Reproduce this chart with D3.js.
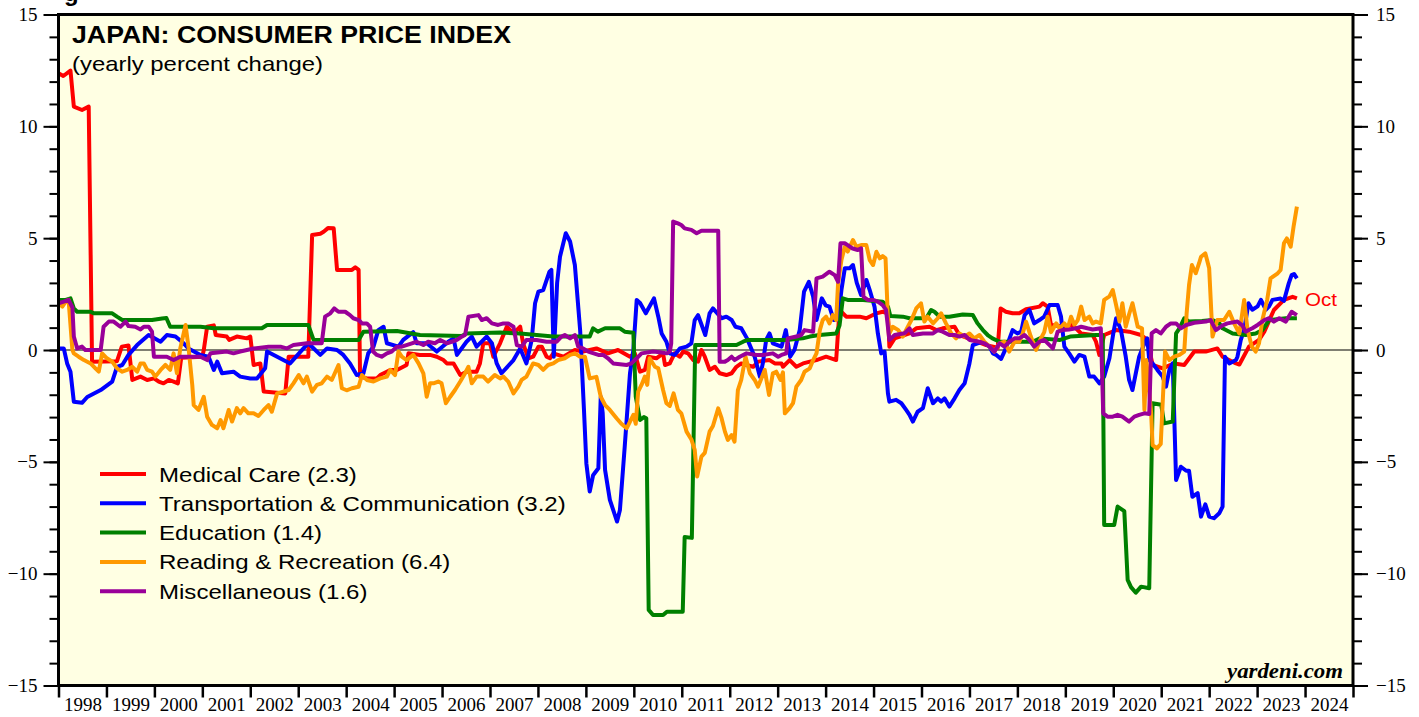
<!DOCTYPE html>
<html>
<head>
<meta charset="utf-8">
<script src="https://cdn.jsdelivr.net/npm/d3@7"></script>
<style>
  body { margin: 0; background: #fff; }
  svg { display: block; }
</style>
</head>
<body>
<div id="graph"></div>
<script>
'use strict';

// ---- data: [decimal year, yearly % change] ----
const medicalCare = [
  [1998.00, 12.37], [1998.10, 12.25], [1998.25, 12.49], [1998.32, 10.88], [1998.49, 10.73], [1998.63, 10.88],
  [1998.70, -0.52], [1999.22, -0.50], [1999.32, 0.15], [1999.46, 0.20], [1999.54, -1.34], [1999.71, -1.19],
  [1999.85, -1.34], [1999.99, -1.27], [2000.09, -1.41], [2000.19, -1.49], [2000.30, -1.34], [2000.40, -1.41],
  [2000.49, -1.49], [2000.56, -0.35], [2001.00, -0.30], [2001.03, 0.00], [2001.10, 1.04], [2001.24, 1.10],
  [2001.28, 0.67], [2001.51, 0.60], [2001.56, 0.45], [2001.72, 0.60], [2001.93, 0.52], [2002.00, 0.60],
  [2002.07, -0.67], [2002.21, -0.60], [2002.28, -1.86], [2002.73, -1.94], [2002.80, -0.30], [2003.21, -0.30],
  [2003.29, 5.14], [2003.46, 5.20], [2003.53, 5.29], [2003.62, 5.45], [2003.74, 5.44], [2003.81, 3.58],
  [2004.12, 3.58], [2004.19, 3.70], [2004.26, 3.58], [2004.29, -1.19], [2004.43, -1.27], [2004.64, -1.27],
  [2004.71, -1.12], [2004.92, -0.89], [2005.06, -0.89], [2005.26, -0.67], [2005.30, -0.15], [2005.54, -0.22],
  [2005.75, -0.22], [2005.89, -0.30], [2006.03, -0.45], [2006.10, -0.60], [2006.24, -0.60], [2006.38, -1.12],
  [2006.51, -0.97], [2006.72, -0.97], [2006.79, -0.60], [2006.86, 0.30], [2007.00, 0.30], [2007.07, -0.30],
  [2007.21, 0.30], [2007.35, 1.04], [2007.49, 0.74], [2007.63, 1.04], [2007.69, 0.30], [2007.80, -0.37],
  [2007.90, -0.30], [2008.01, 0.15], [2008.08, 0.15], [2008.18, -0.30], [2008.25, -0.37], [2008.32, -0.15],
  [2008.53, -0.30], [2008.77, 0.00], [2008.94, -0.07], [2009.22, 0.07], [2009.46, -0.15], [2009.67, 0.00],
  [2009.92, -0.30], [2010.02, -0.15], [2010.13, -0.97], [2010.23, -0.89], [2010.30, -0.30], [2010.47, -0.37],
  [2010.61, -0.15], [2010.65, -0.67], [2010.75, -0.60], [2010.85, -0.15], [2010.96, -0.30], [2011.03, -0.07],
  [2011.13, -0.15], [2011.24, -0.45], [2011.34, -0.52], [2011.41, 0.00], [2011.48, -0.30], [2011.58, -0.89],
  [2011.69, -0.75], [2011.79, -1.04], [2011.93, -1.12], [2012.04, -1.04], [2012.14, -0.75], [2012.24, -0.60],
  [2012.35, -0.67], [2012.49, -0.75], [2012.59, -0.52], [2012.83, -0.45], [2012.94, -0.60], [2013.08, -0.60],
  [2013.11, -0.75], [2013.25, -0.45], [2013.39, -0.75], [2013.53, -0.60], [2013.81, -0.45], [2014.01, -0.30],
  [2014.22, -0.45], [2014.29, 1.79], [2014.43, 1.49], [2014.71, 1.49], [2014.85, 1.42], [2015.06, 1.64],
  [2015.19, 1.71], [2015.30, 1.64], [2015.33, 0.15], [2015.44, 0.52], [2015.75, 0.74], [2015.89, 0.97],
  [2016.17, 1.04], [2016.31, 0.89], [2016.44, 0.97], [2016.69, 1.04], [2016.79, 0.67], [2017.07, 0.45],
  [2017.35, 0.22], [2017.59, 0.10], [2017.65, 1.86], [2017.76, 1.71], [2017.90, 1.64], [2018.04, 1.64],
  [2018.18, 1.82], [2018.46, 1.94], [2018.53, 2.09], [2018.63, 1.94], [2018.70, 1.12], [2018.98, 1.04],
  [2019.12, 1.12], [2019.22, 0.97], [2019.33, 0.74], [2019.57, 0.67], [2019.64, 0.37], [2019.71, -0.22],
  [2019.81, 0.67], [2020.06, 0.89], [2020.33, 0.82], [2020.58, 0.67], [2020.71, 0.45], [2020.82, -0.67],
  [2021.03, -0.82], [2021.27, -0.60], [2021.48, -0.67], [2021.69, -0.07], [2021.93, -0.07], [2022.17, 0.07],
  [2022.28, -0.30], [2022.56, -0.60], [2022.63, -0.65], [2022.83, 0.15], [2023.04, 0.45], [2023.15, 0.82],
  [2023.35, 1.79], [2023.56, 2.24], [2023.74, 2.38], [2023.83, 2.31]
];

const transportComm = [
  [1998.00, 0.07], [1998.11, 0.07], [1998.18, -0.60], [1998.25, -0.97], [1998.32, -2.31], [1998.49, -2.36],
  [1998.60, -2.10], [1998.88, -1.79], [1999.12, -1.41], [1999.22, -0.75], [1999.33, -0.67], [1999.46, -0.22],
  [1999.64, 0.22], [1999.88, 0.67], [2000.13, 0.37], [2000.26, 0.67], [2000.44, 0.60], [2000.61, 0.30],
  [2000.71, 0.07], [2000.96, -0.22], [2001.13, -0.30], [2001.24, -0.89], [2001.31, -0.52], [2001.41, -1.04],
  [2001.65, -0.97], [2001.79, -1.19], [2002.00, -1.27], [2002.14, -1.27], [2002.31, -0.82], [2002.35, -0.07],
  [2002.56, -0.30], [2002.83, -0.60], [2003.11, 0.07], [2003.21, 0.30], [2003.46, -0.22], [2003.60, 0.07],
  [2003.81, 0.00], [2003.94, -0.22], [2004.08, -0.60], [2004.22, -1.12], [2004.36, -1.04], [2004.46, -0.15],
  [2004.57, 0.15], [2004.67, 0.89], [2004.78, 1.04], [2004.85, 0.30], [2005.09, 0.15], [2005.19, 0.45],
  [2005.40, 0.80], [2005.47, 0.30], [2005.68, 0.30], [2005.89, -0.07], [2006.13, 0.37], [2006.24, 0.52],
  [2006.31, -0.22], [2006.51, 0.37], [2006.62, 0.60], [2006.72, 0.15], [2006.93, 0.60], [2007.04, 0.30],
  [2007.14, -0.60], [2007.24, -1.04], [2007.49, -0.45], [2007.63, 0.07], [2007.76, -0.60], [2007.87, 0.45],
  [2007.94, 2.09], [2008.01, 2.61], [2008.11, 2.68], [2008.24, 3.50], [2008.28, 3.58], [2008.33, -0.30],
  [2008.40, 3.00], [2008.46, 4.17], [2008.58, 5.22], [2008.67, 4.85], [2008.77, 3.80], [2008.88, 0.89],
  [2008.96, -2.68], [2009.01, -5.07], [2009.08, -6.33], [2009.15, -5.60], [2009.26, -5.29], [2009.31, -2.09],
  [2009.35, -2.80], [2009.40, -5.36], [2009.50, -6.70], [2009.65, -7.67], [2009.71, -7.15], [2009.81, -4.32],
  [2009.92, -1.04], [2009.99, 0.00], [2010.06, 2.24], [2010.13, 2.10], [2010.25, 1.64], [2010.42, 2.31],
  [2010.51, 1.49], [2010.58, 0.74], [2010.68, 0.37], [2010.75, -0.15], [2010.85, -0.22], [2010.96, 0.07],
  [2011.10, 0.15], [2011.20, 0.30], [2011.27, 1.34], [2011.34, 1.56], [2011.49, 0.67], [2011.58, 1.64],
  [2011.65, 1.86], [2011.83, 1.42], [2011.93, 1.49], [2012.04, 1.34], [2012.12, 1.04], [2012.24, 0.97],
  [2012.36, 0.52], [2012.52, -0.30], [2012.63, -1.19], [2012.69, -0.60], [2012.76, 0.45], [2012.83, 0.74],
  [2012.90, 0.30], [2013.08, 0.15], [2013.17, 0.89], [2013.26, -0.30], [2013.35, 0.00], [2013.46, 0.89],
  [2013.55, 2.61], [2013.65, 3.05], [2013.74, 2.38], [2013.81, 1.34], [2013.92, 2.31], [2014.00, 2.00],
  [2014.08, 1.94], [2014.17, 1.34], [2014.26, 1.34], [2014.33, 2.68], [2014.40, 3.65], [2014.50, 3.65],
  [2014.57, 3.80], [2014.65, 3.00], [2014.74, 2.46], [2014.85, 3.13], [2014.92, 2.68], [2015.02, 1.94],
  [2015.09, 0.74], [2015.16, -0.15], [2015.23, -0.07], [2015.30, -1.94], [2015.33, -2.31], [2015.47, -2.23],
  [2015.58, -2.38], [2015.68, -2.68], [2015.75, -2.90], [2015.82, -3.20], [2015.92, -2.76], [2016.03, -2.60],
  [2016.13, -1.71], [2016.24, -2.38], [2016.34, -2.16], [2016.41, -2.31], [2016.48, -2.16], [2016.58, -2.53],
  [2016.69, -2.16], [2016.79, -1.79], [2016.90, -1.49], [2017.00, -0.60], [2017.07, 0.22], [2017.17, 0.30],
  [2017.28, 0.37], [2017.42, 0.15], [2017.49, -0.15], [2017.56, -0.22], [2017.66, -0.40], [2017.76, 0.07],
  [2017.90, 0.89], [2018.00, 0.74], [2018.08, 0.82], [2018.15, 1.56], [2018.25, 1.79], [2018.35, 1.19],
  [2018.46, 1.34], [2018.56, 1.49], [2018.67, 2.01], [2018.84, 2.01], [2018.91, 1.49], [2018.98, 0.15],
  [2019.08, -0.15], [2019.19, -0.52], [2019.29, -0.22], [2019.40, -0.30], [2019.50, -1.19], [2019.60, -1.19],
  [2019.71, -1.49], [2019.81, -1.19], [2019.92, -0.37], [2020.00, 0.74], [2020.06, 1.42], [2020.16, 0.89],
  [2020.26, -0.30], [2020.33, -1.34], [2020.40, -1.79], [2020.47, -1.04], [2020.54, -0.30], [2020.65, 0.30],
  [2020.71, 0.52], [2020.75, -0.45], [2020.82, -0.60], [2020.92, -0.89], [2021.03, -1.19], [2021.10, -1.64],
  [2021.17, -0.89], [2021.24, -0.60], [2021.31, -5.81], [2021.41, -5.22], [2021.52, -5.40], [2021.58, -5.40],
  [2021.65, -6.56], [2021.76, -6.40], [2021.83, -7.45], [2021.92, -6.90], [2022.00, -7.45], [2022.10, -7.52],
  [2022.21, -7.30], [2022.28, -7.00], [2022.33, -0.30], [2022.42, -0.60], [2022.56, -0.45], [2022.59, -0.30],
  [2022.66, 0.45], [2022.73, 0.90], [2022.82, 2.09], [2022.90, 1.80], [2023.01, 1.95], [2023.08, 2.24],
  [2023.18, 1.80], [2023.25, 1.95], [2023.32, 2.24], [2023.49, 2.30], [2023.56, 2.20], [2023.66, 2.98],
  [2023.72, 3.35], [2023.77, 3.40], [2023.83, 3.20]
];

const education = [
  [1998.00, 2.24], [1998.15, 2.24], [1998.25, 2.31], [1998.32, 1.86], [1998.39, 1.71], [1998.67, 1.71],
  [1998.74, 1.64], [1999.12, 1.64], [1999.22, 1.49], [1999.33, 1.34], [1999.95, 1.34], [2000.16, 1.41],
  [2000.25, 1.43], [2000.33, 1.04], [2000.96, 1.04], [2001.24, 0.97], [2002.24, 0.97], [2002.35, 1.12],
  [2003.21, 1.12], [2003.32, 0.45], [2004.26, 0.45], [2004.36, 0.82], [2005.06, 0.85], [2005.54, 0.67],
  [2006.41, 0.63], [2006.51, 0.74], [2007.21, 0.78], [2007.63, 0.74], [2008.32, 0.60], [2009.08, 0.60],
  [2009.15, 0.97], [2009.25, 0.82], [2009.40, 0.97], [2009.71, 0.97], [2009.81, 0.82], [2009.99, 0.77],
  [2010.04, -2.09], [2010.13, -3.13], [2010.21, -3.00], [2010.26, -3.05], [2010.31, -11.62], [2010.40, -11.85],
  [2010.61, -11.85], [2010.69, -11.70], [2011.02, -11.70], [2011.06, -8.36], [2011.21, -8.40], [2011.28, 0.22],
  [2012.14, 0.22], [2012.28, 0.37], [2012.38, 0.45], [2013.18, 0.45], [2013.52, 0.52], [2013.67, 0.60],
  [2013.87, 0.67], [2014.22, 0.74], [2014.29, 1.10], [2014.36, 2.31], [2014.46, 2.24], [2014.78, 2.24],
  [2015.19, 2.16], [2015.30, 1.94], [2015.35, 1.52], [2015.61, 1.49], [2015.75, 1.42], [2016.10, 1.42],
  [2016.20, 1.79], [2016.27, 1.71], [2016.38, 1.49], [2016.58, 1.49], [2016.86, 1.59], [2017.07, 1.56],
  [2017.17, 1.19], [2017.28, 0.89], [2017.38, 0.67], [2017.48, 0.52], [2017.63, 0.37], [2018.32, 0.37],
  [2018.47, 0.52], [2018.89, 0.45], [2019.10, 0.60], [2019.64, 0.67], [2019.78, 0.67], [2019.81, -7.82],
  [2020.02, -7.82], [2020.09, -7.00], [2020.23, -7.20], [2020.30, -10.28], [2020.37, -10.60], [2020.47, -10.85],
  [2020.58, -10.58], [2020.75, -10.65], [2020.82, -2.38], [2021.00, -2.45], [2021.06, -3.28], [2021.24, -3.20],
  [2021.31, 0.74], [2021.38, 0.97], [2021.48, 1.42], [2021.58, 1.27], [2021.85, 1.30], [2022.07, 1.34],
  [2022.21, 1.20], [2022.28, 0.97], [2022.49, 0.74], [2022.76, 0.67], [2022.97, 0.74], [2023.11, 0.89],
  [2023.25, 1.34], [2023.60, 1.42], [2023.83, 1.42]
];

const readingRecreation = [
  [1998.00, 2.09], [1998.08, 1.94], [1998.15, 2.16], [1998.21, 2.24], [1998.29, 0.00], [1998.32, -0.15],
  [1998.42, -0.30], [1998.53, -0.45], [1998.67, -0.60], [1998.77, -0.82], [1998.84, -0.97], [1998.91, -0.15],
  [1999.01, -0.37], [1999.12, -0.52], [1999.22, -0.82], [1999.33, -0.97], [1999.43, -0.89], [1999.54, -0.75],
  [1999.64, -0.97], [1999.71, -0.60], [1999.78, -0.60], [1999.85, -0.89], [1999.95, -0.97], [2000.02, -1.19],
  [2000.13, -0.89], [2000.23, -0.67], [2000.33, -0.89], [2000.40, -0.15], [2000.47, -1.04], [2000.54, 0.07],
  [2000.65, 1.12], [2000.71, 0.15], [2000.79, -1.56], [2000.82, -2.46], [2000.92, -2.68], [2001.03, -2.09],
  [2001.10, -2.98], [2001.20, -3.35], [2001.31, -3.50], [2001.38, -3.13], [2001.44, -3.50], [2001.55, -2.68],
  [2001.62, -3.20], [2001.72, -2.60], [2001.79, -2.83], [2001.86, -2.60], [2001.96, -2.83], [2002.07, -2.83],
  [2002.17, -2.95], [2002.28, -2.68], [2002.38, -2.46], [2002.45, -2.76], [2002.56, -1.94], [2002.69, -1.86],
  [2002.80, -1.79], [2002.90, -1.49], [2003.01, -1.12], [2003.11, -1.49], [2003.18, -1.19], [2003.29, -1.86],
  [2003.39, -1.56], [2003.49, -1.49], [2003.60, -1.19], [2003.70, -1.34], [2003.84, -0.67], [2003.91, -1.71],
  [2004.01, -1.80], [2004.12, -1.71], [2004.26, -1.64], [2004.33, -1.12], [2004.43, -1.34], [2004.57, -1.41],
  [2004.71, -1.27], [2004.85, -1.19], [2004.92, -0.89], [2005.02, -1.12], [2005.09, -0.07], [2005.16, -0.30],
  [2005.26, -0.45], [2005.40, -0.22], [2005.51, -0.60], [2005.61, -1.04], [2005.68, -2.09], [2005.75, -1.49],
  [2005.82, -1.49], [2005.92, -1.41], [2005.99, -1.49], [2006.08, -2.38], [2006.17, -2.09], [2006.27, -1.79],
  [2006.38, -1.41], [2006.48, -1.04], [2006.55, -0.75], [2006.62, -1.49], [2006.72, -1.19], [2006.86, -1.19],
  [2006.96, -1.41], [2007.10, -1.12], [2007.21, -1.27], [2007.28, -1.19], [2007.38, -1.41], [2007.49, -1.94],
  [2007.59, -1.64], [2007.66, -1.34], [2007.76, -1.19], [2007.90, -0.60], [2008.01, -0.67], [2008.11, -0.89],
  [2008.21, -0.67], [2008.32, -0.60], [2008.42, -0.45], [2008.56, -0.37], [2008.67, -0.22], [2008.77, -0.15],
  [2008.88, -0.30], [2008.98, -0.30], [2009.08, -1.27], [2009.22, -1.20], [2009.31, -2.09], [2009.40, -2.46],
  [2009.50, -2.68], [2009.64, -3.05], [2009.74, -3.30], [2009.85, -3.50], [2009.92, -3.20], [2009.99, -2.90],
  [2010.04, -3.30], [2010.09, -1.86], [2010.16, -1.56], [2010.23, -1.19], [2010.28, -1.56], [2010.33, -0.37],
  [2010.44, -0.75], [2010.51, -0.82], [2010.61, -1.79], [2010.68, -2.38], [2010.75, -2.50], [2010.83, -1.94],
  [2010.92, -2.68], [2010.99, -2.83], [2011.10, -3.65], [2011.20, -4.00], [2011.27, -4.47], [2011.32, -5.66],
  [2011.41, -4.77], [2011.48, -4.60], [2011.58, -3.65], [2011.65, -3.40], [2011.76, -2.61], [2011.83, -3.05],
  [2011.90, -3.65], [2011.96, -4.02], [2012.04, -3.80], [2012.10, -4.10], [2012.17, -1.79], [2012.24, -1.34],
  [2012.33, -0.30], [2012.42, -1.04], [2012.52, -1.34], [2012.59, -1.64], [2012.66, -1.27], [2012.73, -0.89],
  [2012.82, -2.01], [2012.90, -1.04], [2012.97, -0.97], [2013.06, -1.34], [2013.11, -1.00], [2013.15, -2.83],
  [2013.25, -2.60], [2013.32, -2.38], [2013.39, -1.64], [2013.49, -1.34], [2013.56, -0.97], [2013.67, -0.82],
  [2013.74, -0.45], [2013.81, -0.15], [2013.88, 0.89], [2013.94, 1.34], [2014.01, 1.49], [2014.08, 1.19],
  [2014.15, 1.56], [2014.22, 1.34], [2014.26, 2.98], [2014.33, 4.02], [2014.40, 4.62], [2014.46, 4.40],
  [2014.57, 4.92], [2014.64, 4.62], [2014.74, 4.69], [2014.85, 4.69], [2014.92, 4.02], [2014.99, 3.80],
  [2015.06, 4.39], [2015.13, 4.10], [2015.19, 4.20], [2015.25, 4.10], [2015.30, 1.34], [2015.33, 0.74],
  [2015.40, 1.04], [2015.51, 0.90], [2015.61, 0.60], [2015.68, 0.90], [2015.79, 1.34], [2015.89, 1.86],
  [2015.99, 2.09], [2016.06, 1.27], [2016.13, 1.49], [2016.24, 1.19], [2016.34, 1.42], [2016.41, 1.64],
  [2016.51, 1.19], [2016.62, 0.74], [2016.72, 0.52], [2016.79, 0.74], [2016.90, 0.60], [2017.00, 0.74],
  [2017.10, 0.52], [2017.21, 0.67], [2017.31, 0.37], [2017.42, 0.15], [2017.52, -0.07], [2017.63, 0.30],
  [2017.73, 0.37], [2017.83, -0.07], [2017.94, 0.37], [2018.04, 0.37], [2018.11, 0.74], [2018.18, 1.27],
  [2018.28, 0.60], [2018.39, 0.00], [2018.49, 0.52], [2018.56, 0.80], [2018.63, 1.49], [2018.70, 0.80],
  [2018.81, 1.19], [2018.88, 0.97], [2018.98, 1.19], [2019.05, 0.97], [2019.12, 1.49], [2019.19, 1.12],
  [2019.26, 1.34], [2019.33, 1.94], [2019.40, 1.34], [2019.50, 1.49], [2019.57, 1.19], [2019.64, 1.27],
  [2019.74, 1.19], [2019.81, 2.24], [2019.92, 2.40], [2019.99, 2.68], [2020.06, 2.00], [2020.13, 1.27],
  [2020.19, 2.09], [2020.26, 1.04], [2020.33, 1.60], [2020.40, 2.09], [2020.51, 1.04], [2020.60, 0.97],
  [2020.65, -2.68], [2020.69, -0.45], [2020.79, -2.83], [2020.82, -4.25], [2020.91, -4.40], [2020.99, -4.20],
  [2021.03, -2.38], [2021.08, -0.07], [2021.17, -0.45], [2021.27, -0.30], [2021.38, -0.22], [2021.48, -0.07],
  [2021.53, 1.64], [2021.58, 2.90], [2021.64, 3.80], [2021.72, 3.43], [2021.79, 3.88], [2021.83, 4.17],
  [2021.92, 4.32], [2022.00, 3.65], [2022.07, 0.60], [2022.17, 1.34], [2022.31, 1.34], [2022.42, 1.71],
  [2022.52, 1.19], [2022.63, 0.74], [2022.73, 2.24], [2022.80, 0.90], [2022.89, 0.15], [2022.97, -0.07],
  [2023.04, 0.30], [2023.11, 1.34], [2023.21, 2.24], [2023.28, 3.20], [2023.43, 3.43], [2023.49, 3.58],
  [2023.56, 4.77], [2023.62, 4.99], [2023.70, 4.62], [2023.76, 5.51], [2023.83, 6.41]
];

const miscellaneous = [
  [1998.00, 2.09], [1998.11, 2.16], [1998.21, 2.24], [1998.29, 1.90], [1998.32, 0.60], [1998.39, 0.07],
  [1998.49, 0.15], [1998.56, 0.00], [1998.88, 0.00], [1998.94, 1.04], [1999.05, 1.27], [1999.15, 1.27],
  [1999.29, 1.04], [1999.40, 1.27], [1999.46, 1.07], [1999.60, 1.04], [1999.71, 0.92], [1999.78, 1.04],
  [1999.88, 1.04], [1999.95, 0.82], [1999.99, -0.30], [2000.26, -0.30], [2000.40, -0.45], [2000.54, -0.30],
  [2000.96, -0.30], [2001.10, -0.45], [2001.17, -0.15], [2001.51, -0.07], [2001.65, -0.15], [2001.79, -0.07],
  [2001.93, 0.00], [2002.07, 0.07], [2002.38, 0.15], [2002.63, 0.15], [2002.76, 0.07], [2002.90, 0.22],
  [2003.18, 0.30], [2003.49, 0.30], [2003.56, 1.49], [2003.67, 1.64], [2003.75, 1.86], [2003.84, 1.71],
  [2003.98, 1.71], [2004.08, 1.56], [2004.15, 1.42], [2004.26, 1.34], [2004.33, 1.19], [2004.43, 1.19],
  [2004.50, 1.04], [2004.56, -0.07], [2004.64, -0.22], [2004.74, -0.30], [2004.85, -0.15], [2004.95, -0.07],
  [2005.06, 0.15], [2005.16, 0.15], [2005.37, 0.30], [2005.47, 0.37], [2005.61, 0.22], [2005.71, 0.37],
  [2005.85, 0.30], [2005.96, 0.45], [2006.10, 0.30], [2006.20, 0.37], [2006.31, 0.45], [2006.41, 0.60],
  [2006.48, 0.67], [2006.55, 1.49], [2006.76, 1.56], [2006.83, 1.34], [2006.93, 1.42], [2007.04, 1.19],
  [2007.17, 1.12], [2007.28, 1.19], [2007.38, 1.19], [2007.49, 1.04], [2007.56, 0.22], [2007.66, 0.15],
  [2007.76, 0.45], [2007.97, 0.45], [2008.18, 0.37], [2008.39, 0.37], [2008.49, 0.60], [2008.56, 0.67],
  [2008.67, 0.52], [2008.77, 0.67], [2008.84, 0.15], [2008.94, 0.07], [2009.05, -0.07], [2009.26, -0.22],
  [2009.36, -0.22], [2009.46, -0.37], [2009.57, -0.60], [2009.85, -0.67], [2009.95, -0.60], [2010.06, -0.37],
  [2010.16, -0.15], [2010.40, -0.07], [2010.54, -0.10], [2010.69, -0.15], [2010.75, -0.07], [2010.78, 0.30],
  [2010.82, 5.74], [2010.92, 5.66], [2010.99, 5.59], [2011.06, 5.44], [2011.20, 5.37], [2011.31, 5.22],
  [2011.41, 5.33], [2011.76, 5.33], [2011.79, -0.52], [2011.90, -0.52], [2011.96, -0.45], [2012.04, -0.30],
  [2012.10, -0.45], [2012.21, -0.30], [2012.35, -0.15], [2012.56, -0.22], [2012.69, -0.22], [2012.90, -0.15],
  [2013.01, -0.30], [2013.08, -0.22], [2013.18, -0.15], [2013.21, 0.52], [2013.39, 0.60], [2013.49, 0.67],
  [2013.56, 0.89], [2013.74, 0.82], [2013.81, 3.20], [2013.94, 3.28], [2014.08, 3.50], [2014.19, 3.35],
  [2014.26, 3.05], [2014.31, 4.77], [2014.40, 4.77], [2014.46, 4.69], [2014.55, 4.55], [2014.67, 4.47],
  [2014.74, 4.55], [2014.79, 2.38], [2014.88, 2.24], [2014.99, 2.24], [2015.09, 2.16], [2015.19, 2.01],
  [2015.26, 1.79], [2015.33, 0.45], [2015.44, 0.67], [2015.65, 0.75], [2015.75, 0.97], [2015.82, 0.67],
  [2016.03, 0.74], [2016.24, 0.74], [2016.34, 0.89], [2016.44, 0.82], [2016.58, 0.67], [2016.69, 0.67],
  [2016.79, 0.60], [2016.90, 0.67], [2017.00, 0.45], [2017.21, 0.37], [2017.31, 0.30], [2017.42, 0.15],
  [2017.52, -0.07], [2017.63, 0.30], [2017.73, 0.15], [2017.83, 0.37], [2017.94, 0.52], [2018.04, 0.52],
  [2018.15, 0.67], [2018.25, 0.45], [2018.35, 0.15], [2018.46, 0.37], [2018.56, 0.45], [2018.67, 0.22],
  [2018.74, 0.07], [2018.84, 0.82], [2018.94, 0.89], [2019.08, 0.92], [2019.22, 0.97], [2019.33, 1.04],
  [2019.46, 0.97], [2019.57, 0.92], [2019.74, 0.97], [2019.79, -2.83], [2019.88, -2.98], [2019.99, -2.98],
  [2020.09, -2.90], [2020.19, -2.98], [2020.33, -3.20], [2020.44, -2.98], [2020.54, -2.90], [2020.65, -2.83],
  [2020.75, -2.86], [2020.80, 0.74], [2020.89, 0.89], [2020.99, 0.74], [2021.10, 1.04], [2021.20, 1.19],
  [2021.31, 1.19], [2021.41, 0.97], [2021.52, 1.12], [2021.69, 1.22], [2021.93, 1.27], [2022.03, 1.34],
  [2022.14, 0.89], [2022.28, 1.10], [2022.38, 1.19], [2022.59, 1.27], [2022.69, 1.10], [2022.76, 0.82],
  [2022.90, 0.97], [2023.01, 1.12], [2023.15, 1.34], [2023.25, 1.42], [2023.35, 1.27], [2023.46, 1.42],
  [2023.60, 1.27], [2023.72, 1.71], [2023.83, 1.56]
];

const seriesNames = ['Medical Care', 'Transportation & Communication', 'Education', 'Reading & Recreation', 'Miscellaneous'];
const latestValues = ['2.3', '3.2', '1.4', '6.4', '1.6'];
const seriesColors = ['#ff0000', '#0000ff', '#008000', '#ff9900', '#990099'];
const seriesData = [medicalCare, transportComm, education, readingRecreation, miscellaneous];

const yearTicks = d3.range(1998, 2026);        // tick marks on year boundaries
const yearLabels = d3.range(1998, 2025);       // one label per year, centered
const yMajorTicks = [-15, -10, -5, 0, 5, 10, 15];
const yMinorTicks = d3.range(-15, 16, 1);

(function() {

  const width = 1419;
  const height = 717;
  const plot = { left: 58.5, right: 1353, top: 14.5, bottom: 685.5 };
  const sans = "'Liberation Sans', Arial, Helvetica, sans-serif";
  const serif = "'Liberation Serif', 'Times New Roman', serif";
  const stretch = 1.145; // the original sans text runs wider than Liberation Sans

  const svg = d3.select('#graph')
    .append('svg')
    .attr('width', width)
    .attr('height', height);

  // scales
  const xScale = d3.scaleLinear().domain([1998, 2025]).range([plot.left, plot.right]);
  const yScale = d3.scaleLinear().domain([-15, 15]).range([plot.bottom, plot.top]);

  // widen a text element to a given length
  function widen(sel, len) {
    const w = len || sel.node().getComputedTextLength() * stretch;
    sel.attr('textLength', w).attr('lengthAdjust', 'spacingAndGlyphs');
  }

  // plot background
  svg.append('rect')
    .attr('x', plot.left)
    .attr('y', plot.top)
    .attr('width', plot.right - plot.left)
    .attr('height', plot.bottom - plot.top)
    .attr('fill', '#ffffe3');

  // clipped title fragment at the very top
  svg.append('text')
    .attr('x', 64)
    .attr('y', 1)
    .style('font-family', sans)
    .style('font-weight', 'bold')
    .style('font-size', '24px')
    .text('g');

  // y axes: minor ticks every 1, major every 5, both sides
  function styleAxis(g) {
    g.attr('font-family', serif);
    g.select('.domain').remove();
    g.selectAll('.tick line').attr('stroke', '#000').attr('stroke-width', 2);
    g.selectAll('.tick text')
      .style('font-family', serif)
      .style('font-size', '19px')
      .attr('fill', '#000');
  }

  svg.append('g')
    .attr('transform', `translate(${plot.left},0)`)
    .call(d3.axisLeft(yScale).tickValues(yMinorTicks).tickSize(9).tickFormat(''))
    .call(styleAxis);
  svg.append('g')
    .attr('transform', `translate(${plot.left},0)`)
    .call(d3.axisLeft(yScale).tickValues(yMajorTicks).tickSize(15).tickPadding(6))
    .call(styleAxis);

  svg.append('g')
    .attr('transform', `translate(${plot.right},0)`)
    .call(d3.axisRight(yScale).tickValues(yMinorTicks).tickSize(9).tickFormat(''))
    .call(styleAxis);
  svg.append('g')
    .attr('transform', `translate(${plot.right},0)`)
    .call(d3.axisRight(yScale).tickValues(yMajorTicks).tickSize(15).tickPadding(8))
    .call(styleAxis);

  // x axis: tick marks at year boundaries, labels in between
  svg.append('g')
    .attr('transform', `translate(0,${plot.bottom})`)
    .call(d3.axisBottom(xScale).tickValues(yearTicks).tickSize(12).tickFormat(''))
    .call(g => {
      g.select('.domain').remove();
      g.selectAll('.tick line').attr('stroke', '#000').attr('stroke-width', 2.5);
    });
  svg.append('g')
    .attr('transform', `translate(0,${plot.bottom})`)
    .call(d3.axisBottom(xScale).tickValues(yearLabels.map(y => y + 0.5)).tickSize(0).tickPadding(12)
      .tickFormat(d => String(Math.floor(d))))
    .call(g => {
      g.attr('font-family', serif);
      g.select('.domain').remove();
      g.selectAll('.tick text')
        .style('font-family', serif)
        .style('font-size', '19px')
        .attr('fill', '#000');
    });

  // zero line
  svg.append('line')
    .attr('x1', plot.left)
    .attr('x2', plot.right)
    .attr('y1', yScale(0))
    .attr('y2', yScale(0))
    .attr('stroke', '#000')
    .attr('stroke-width', 1.2);

  // series lines
  const line = d3.line()
    .x(d => xScale(d[0]))
    .y(d => yScale(d[1]));

  svg.selectAll('.series')
    .data(seriesData)
    .enter()
    .append('path')
      .attr('class', 'series')
      .attr('d', line)
      .attr('fill', 'none')
      .attr('stroke', (d, i) => seriesColors[i])
      .attr('stroke-width', 4)
      .attr('stroke-linejoin', 'round');

  // "Oct" marker for the latest month
  svg.append('text')
    .attr('x', 1305)
    .attr('y', 306)
    .style('font-family', sans)
    .style('font-size', '19px')
    .attr('fill', '#ff0000')
    .text('Oct')
    .call(widen, 32);

  // plot frame
  svg.append('rect')
    .attr('x', plot.left)
    .attr('y', plot.top)
    .attr('width', plot.right - plot.left)
    .attr('height', plot.bottom - plot.top)
    .attr('fill', 'none')
    .attr('stroke', '#000')
    .attr('stroke-width', 3);

  // title
  svg.append('text')
    .attr('x', 72)
    .attr('y', 43)
    .style('font-family', sans)
    .style('font-weight', 'bold')
    .style('font-size', '24px')
    .text('JAPAN: CONSUMER PRICE INDEX')
    .call(widen, 439);

  svg.append('text')
    .attr('x', 72)
    .attr('y', 71)
    .style('font-family', sans)
    .style('font-size', '21px')
    .text('(yearly percent change)')
    .call(widen, 251);

  // legend
  const legend = svg.append('g');
  seriesNames.forEach((name, i) => {
    const y = 474 + i * 29.3;
    legend.append('line')
      .attr('x1', 100)
      .attr('x2', 146)
      .attr('y1', y)
      .attr('y2', y)
      .attr('stroke', seriesColors[i])
      .attr('stroke-width', 4);
    legend.append('text')
      .attr('x', 159)
      .attr('y', y + 7.5)
      .style('font-family', sans)
      .style('font-size', '21px')
      .text(`${name} (${latestValues[i]})`)
      .call(widen);
  });

  // source
  svg.append('text')
    .attr('x', 1343)
    .attr('y', 678)
    .attr('text-anchor', 'end')
    .style('font-family', serif)
    .style('font-weight', 'bold')
    .style('font-style', 'italic')
    .style('font-size', '21px')
    .text('yardeni.com')
    .call(widen, 116);

})();
</script>
</body>
</html>
